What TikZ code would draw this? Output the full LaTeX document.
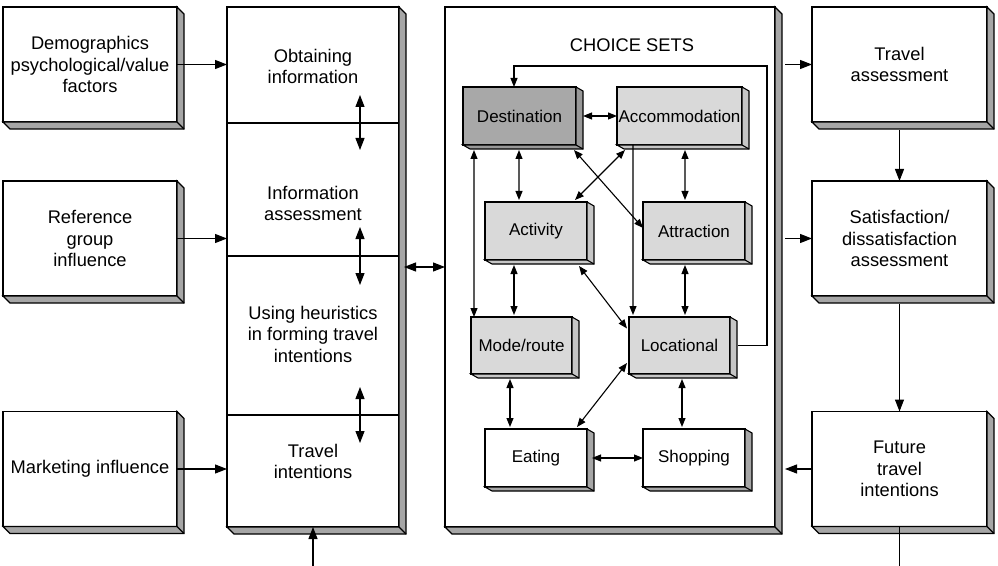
\documentclass[tikz,border=0pt]{standalone}
\usepackage{fontspec}
\setmainfont{Liberation Sans}
\usetikzlibrary{calc,arrows.meta}

\definecolor{destface}{HTML}{A8A8A8}
\definecolor{destside}{HTML}{989898}
\definecolor{litface}{HTML}{D9D9D9}
\definecolor{litside}{HTML}{C6C6C6}
\definecolor{sidegray}{HTML}{A6A6A6}

\newcommand\outerfont{\fontsize{18.3bp}{21.5bp}\selectfont}
\newcommand\innerfont{\fontsize{17bp}{20bp}\selectfont}

% extruded side of a 3D box: top node, bottom node, dx, dy, fill colour
\newcommand\boxside[5]{%
  \filldraw[fill=#5, line width=1.1bp, line join=miter]
    (#1.north east) -- ++(#3,#4) -- ($(#2.south east)+(#3,#4)$)
    -- ($(#2.south west)+(#3,#4)$) -- (#2.south west) -- (#2.south east) -- cycle;
  \draw[line width=1.1bp] (#2.south east) -- ++(#3,#4);}

\tikzset{
  obox/.style={draw, line width=1.2bp, fill=white, inner sep=0pt, outer sep=0pt,
    minimum width=174bp, minimum height=115bp, align=center, font=\outerfont},
  colsec/.style={draw, line width=1.2bp, fill=white, inner sep=0pt, outer sep=0pt,
    minimum width=172bp},
  otext/.style={inner sep=0pt, align=center, font=\outerfont},
  ibox/.style={draw, line width=1.2bp, inner sep=0pt, outer sep=0pt,
    minimum height=58bp, align=center, font=\innerfont},
  oarr/.style={line width=1.1bp, -{Triangle[length=12bp,width=9bp]}},
  obi/.style={line width=1.1bp, {Triangle[length=12bp,width=9bp]}-{Triangle[length=12bp,width=9bp]}},
  iarr/.style={line width=1.1bp, -{Triangle[length=9bp,width=7bp]}},
  ibi/.style={line width=1.1bp, {Triangle[length=9bp,width=7bp]}-{Triangle[length=9bp,width=7bp]}},
}

\begin{document}
\begin{tikzpicture}[x=1bp,y=-1bp]
\useasboundingbox (0,0) rectangle (998,566);

% influences on the left
\node[obox] (demo) at (90,64.5) {Demographics\\psychological/value\\factors};
\node[obox] (ref)  at (90,238.5) {Reference\\group\\influence};
\node[obox] (mkt)  at (90,469) {Marketing influence};
\boxside{demo}{demo}{7}{7}{sidegray}
\boxside{ref}{ref}{7}{7}{sidegray}
\boxside{mkt}{mkt}{7}{7}{sidegray}

% decision column
\node[colsec, minimum height=116bp] (sec1) at (313,65) {};
\node[colsec, minimum height=133bp] (sec2) at (313,189.5) {};
\node[colsec, minimum height=159bp] (sec3) at (313,335.5) {};
\node[colsec, minimum height=112bp] (sec4) at (313,471) {};
\boxside{sec1}{sec4}{7}{7}{sidegray}
\node[otext] (t1) at (313,66.5) {Obtaining\\information};
\node[otext] (t2) at (313,203.5) {Information\\assessment};
\node[otext] (t3) at (313,334) {Using heuristics\\in forming travel\\intentions};
\node[otext] (t4) at (313,461.5) {Travel\\intentions};

% choice sets panel
\node[draw, line width=1.2bp, fill=white, inner sep=0pt, outer sep=0pt,
  minimum width=330bp, minimum height=520bp] (choice) at (610,267) {};
\boxside{choice}{choice}{7}{7}{sidegray}
\node[otext] (cs) at (632,45) {CHOICE SETS};

\node[ibox, fill=destface, minimum width=113bp] (dest) at (519.5,116) {Destination};
\node[ibox, fill=litface, minimum width=125bp] (acc) at (679.5,116) {Accommodation};
\node[ibox, fill=litface, minimum width=102bp] (act) at (536,231) {Activity};
\node[ibox, fill=litface, minimum width=102bp] (att) at (694,231) {Attraction};
\node[ibox, fill=litface, minimum width=101bp, minimum height=57bp] (mode) at (521.5,345.5) {Mode/route};
\node[ibox, fill=litface, minimum width=101bp, minimum height=57bp] (loc) at (679.5,345.5) {Locational};
\node[ibox, fill=white, minimum width=102bp] (eat) at (536,458) {Eating};
\node[ibox, fill=white, minimum width=102bp] (shop) at (694,458) {Shopping};
\boxside{dest}{dest}{7}{4}{destside}
\boxside{acc}{acc}{7}{4}{litside}
\boxside{act}{act}{7}{4}{litside}
\boxside{att}{att}{7}{4}{litside}
\boxside{mode}{mode}{7}{4}{litside}
\boxside{loc}{loc}{7}{4}{litside}
\boxside{eat}{eat}{7}{4}{sidegray}
\boxside{shop}{shop}{7}{4}{sidegray}

% assessment chain on the right
\node[obox, minimum width=175bp] (tass) at (899.5,64.5) {Travel\\assessment};
\node[obox, minimum width=175bp] (sat)  at (899.5,238.5) {Satisfaction/\\dissatisfaction\\assessment};
\node[obox, minimum width=175bp] (fut)  at (899.5,469) {Future\\travel\\intentions};
\boxside{tass}{tass}{7}{7}{sidegray}
\boxside{sat}{sat}{7}{7}{sidegray}
\boxside{fut}{fut}{7}{7}{sidegray}

\coordinate (in) at (313,566);
\coordinate (out) at (899.5,566);
\coordinate (fb) at (767,66);

% outer connectors
\draw[oarr] (demo.east) -- (demo.east -| sec1.west);
\draw[oarr] (ref.east) -- (ref.east -| sec2.west);
\draw[oarr] (mkt.east) -- (mkt.east -| sec4.west);
\draw[oarr] (in) -- (sec4.south);
\draw[obi] ($(sec1.south west)+(133,-28)$) -- ($(sec1.south west)+(133,27)$);
\draw[obi] ($(sec2.south west)+(133,-29)$) -- ($(sec2.south west)+(133,29)$);
\draw[obi] ($(sec3.south west)+(133,-28)$) -- ($(sec3.south west)+(133,28)$);
\draw[obi] ([xshift=5bp]choice.west -| sec3.east) -- (choice.west);
\draw[oarr] ([xshift=-27bp]tass.west) -- (tass.west);
\draw[oarr] ([xshift=-27bp]sat.west) -- (sat.west);
\draw[oarr] (fut.west) -- ([xshift=-27bp]fut.west);
\draw[oarr] ($(tass.south)+(0,8)$) -- (sat.north);
\draw[oarr] ($(sat.south)+(0,8)$) -- (fut.north);
\draw[line width=1.1bp] (fut.south) -- (out);

% connectors between the choice sets
\draw[ibi] ($(dest.east)+(7,0)$) -- (acc.west);
\draw[ibi] ($(dest.south west)+(11,5)$) -- ($(mode.north west)+(3,0)$);
\draw[ibi] ($(dest.south west)+(56,5)$) -- ($(act.north west)+(34,-2)$);
\draw[ibi] ($(dest.south east)+(-2,5)$) -- ($(att.west)+(0,-3)$);
\draw[ibi] ($(acc.south west)+(8,5)$) -- ($(act.north east)+(-12,-2)$);
\draw[iarr] ($(acc.south west)+(16,0)$) -- ($(loc.north west)+(4,-2)$);
\draw[ibi] ($(acc.south west)+(68,5)$) -- ($(att.north west)+(42,-2)$);
\draw[ibi] ($(act.south west)+(29,5)$) -- ($(mode.north west)+(43,-2)$);
\draw[ibi] ($(act.south east)+(-8,6)$) -- ($(loc.west)+(-2,-17)$);
\draw[ibi] ($(att.south west)+(42,5)$) -- ($(loc.north west)+(56,-2)$);
\draw[ibi] ($(mode.south west)+(39,5)$) -- ($(eat.north west)+(25,-2)$);
\draw[ibi] ($(loc.south west)+(-2,-11)$) -- ($(eat.north east)+(-10,-2)$);
\draw[ibi] ($(loc.south west)+(53,5)$) -- ($(shop.north west)+(39,-2)$);
\draw[ibi] ($(eat.east)+(5,0)$) -- (shop.west);
\draw[iarr] ($(loc.east)+(8,0)$) -| (fb) -| ($(dest.north west)+(51,0)$);
\end{tikzpicture}
\end{document}
